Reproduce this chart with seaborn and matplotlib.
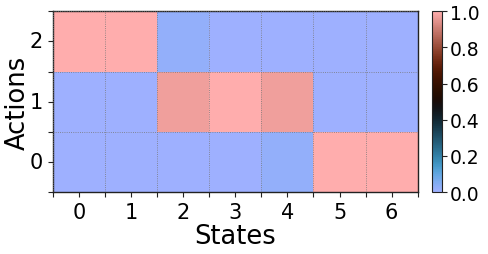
import numpy as np
import pandas as pd
import seaborn as sns
import matplotlib.pyplot as plt

states = [0, 1, 2, 3, 4, 5, 6]
actions = [2, 1, 0]  # top row first
row_a2 = [1.0, 1.0, 0.02, 0.0, 0.0, 0.0, 0.0]
row_a1 = [0.0, 0.0, 0.97, 1.0, 0.97, 0.0, 0.0]
row_a0 = [0.0, 0.0, 0.0, 0.0, 0.02, 1.0, 1.0]

df = pd.DataFrame([row_a2, row_a1, row_a0], index=actions, columns=states)

sns.set_theme(style='white', rc={'text.color': 'black', 'axes.labelcolor': 'black',
                                 'xtick.color': 'black', 'ytick.color': 'black'})
plt.rcParams['font.family'] = ['DejaVu Sans']

fig = plt.figure(figsize=(4.88, 2.55), dpi=100)
ax = fig.add_axes([0.108, 0.243, 0.748, 0.709])
cax = fig.add_axes([0.885, 0.243, 0.021, 0.709])

sns.heatmap(df, ax=ax, cbar_ax=cax, cmap='berlin', vmin=0, vmax=1,
            cbar_kws={'ticks': [0, 0.2, 0.4, 0.6, 0.8, 1.0]})

# spines back on like imshow
for s in ax.spines.values():
    s.set_visible(True)
    s.set_color('#222222')
    s.set_linewidth(1.0)

ax.set_xticks(np.arange(len(states)) + 0.5)
ax.set_xticklabels(states, rotation=0, fontsize=15)
ax.set_yticks(np.arange(len(actions)) + 0.5)
ax.set_yticklabels(actions, rotation=0, fontsize=15)
ax.set_xticks(np.arange(len(states) + 1), minor=True)
ax.set_yticks(np.arange(len(actions) + 1), minor=True)
ax.tick_params(which='both', direction='out', length=3.5, width=0.8,
               color='#222222', bottom=True, left=True)
ax.set_axisbelow(False)
ax.grid(which='minor', linestyle=':', color='#777777', linewidth=0.6)
ax.grid(which='major', visible=False)

ax.set_xlabel('States', fontsize=18.5, labelpad=1)
ax.set_ylabel('Actions', fontsize=18.5, labelpad=-1)

cb = ax.collections[0].colorbar
cb.outline.set_linewidth(0.8)
cb.outline.set_edgecolor('#222222')
cax.tick_params(labelsize=13.5, length=3.5, width=0.8, color='#222222', pad=2)
cax.set_yticklabels(['0.0', '0.2', '0.4', '0.6', '0.8', '1.0'])

fig.savefig('out.png', dpi=100)
